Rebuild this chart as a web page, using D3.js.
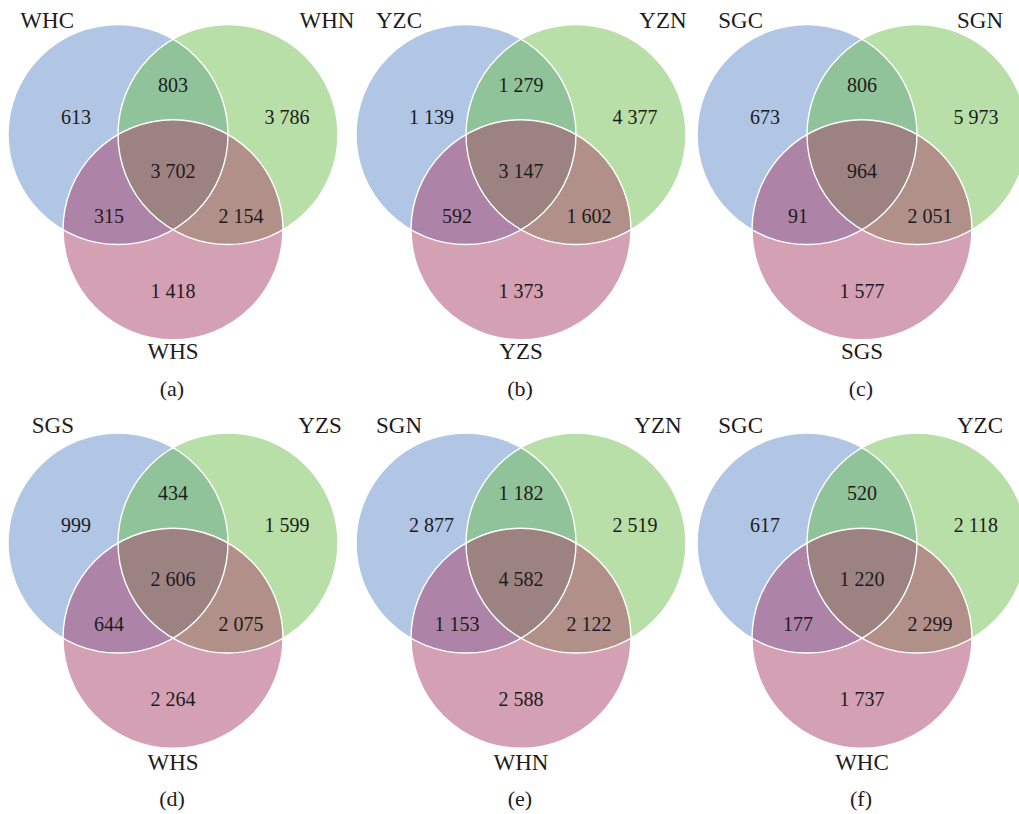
<!DOCTYPE html>
<html>
<head>
<meta charset="utf-8">
<script src="https://cdn.jsdelivr.net/npm/d3@7"></script>
<style>
  html, body { margin: 0; padding: 0; background: #fff; }
  svg { display: block; }
  text { font-family: "Liberation Serif", "Times New Roman", serif; fill: #1e1b1c; }
</style>
</head>
<body>
<svg id="chart" width="1019" height="814"></svg>
<script>
// Panel captions and the three sets compared in each panel (left, right, bottom)
const panelTags = ["(a)", "(b)", "(c)", "(d)", "(e)", "(f)"];
const setNames = [
  ["WHC", "WHN", "WHS"],
  ["YZC", "YZN", "YZS"],
  ["SGC", "SGN", "SGS"],
  ["SGS", "YZS", "WHS"],
  ["SGN", "YZN", "WHN"],
  ["SGC", "YZC", "WHC"]
];
// Region counts: [left only, right only, bottom only, left∩right, left∩bottom, right∩bottom, all three]
const regionKeys = ["A", "B", "C", "AB", "AC", "BC", "ABC"];
const countsA = [613, 3786, 1418, 803, 315, 2154, 3702];
const countsB = [1139, 4377, 1373, 1279, 592, 1602, 3147];
const countsC = [673, 5973, 1577, 806, 91, 2051, 964];
const countsD = [999, 1599, 2264, 434, 644, 2075, 2606];
const countsE = [2877, 2519, 2588, 1182, 1153, 2122, 4582];
const countsF = [617, 2118, 1737, 520, 177, 2299, 1220];
const panelCounts = [countsA, countsB, countsC, countsD, countsE, countsF];

// Layout
const R = 110;
const H = R * Math.sqrt(3) / 2;
const colX = d3.scaleOrdinal().domain([0, 1, 2]).range([173, 521, 862]);
const rowCy = d3.scaleOrdinal().domain([0, 1]).range([134.5, 543]);
const rowTopLabel = [27.5, 432.5];
const rowBottomLabel = [358.5, 770];
const rowCaption = [396, 806];
const rightLabelX = [327, 663, 980, 320, 658, 980];

const setColor = d3.scaleOrdinal()
  .domain([0, 1, 2])
  .range(["rgb(97,141,201)", "rgb(113,191,81)", "rgb(169,65,105)"]);

// Count positions relative to the top-pair centre line
const regionPos = {
  A:   { dx: -112, dy: -18, anchor: "start" },
  B:   { dx: 114,  dy: -18, anchor: "middle" },
  C:   { dx: 0,    dy: 156, anchor: "middle" },
  AB:  { dx: 0,    dy: -50, anchor: "middle" },
  AC:  { dx: -64,  dy: 81,  anchor: "middle" },
  BC:  { dx: 68,   dy: 81,  anchor: "middle" },
  ABC: { dx: 0,    dy: 36,  anchor: "middle" }
};

const fmt = d3.formatLocale({ decimal: ".", thousands: " ", grouping: [3], currency: ["", ""] }).format(",d");

const svg = d3.select("#chart");

panelCounts.forEach((counts, i) => {
  const col = i % 3, row = Math.floor(i / 3);
  const cx = colX(col), cy = rowCy(row);
  const centres = [
    { x: cx - R / 2, y: cy },
    { x: cx + R / 2, y: cy },
    { x: cx, y: cy + H }
  ];
  const g = svg.append("g").attr("class", "venn");

  // translucent set fills
  g.selectAll("circle.fill")
    .data(centres)
    .join("circle")
    .attr("class", "fill")
    .attr("cx", d => d.x)
    .attr("cy", d => d.y)
    .attr("r", R)
    .attr("fill", (d, k) => setColor(k))
    .attr("fill-opacity", 0.5);

  // white outlines on top
  g.selectAll("circle.edge")
    .data(centres)
    .join("circle")
    .attr("class", "edge")
    .attr("cx", d => d.x)
    .attr("cy", d => d.y)
    .attr("r", R)
    .attr("fill", "none")
    .attr("stroke", "#fff")
    .attr("stroke-width", 1.4);

  // region counts
  g.selectAll("text.count")
    .data(regionKeys.map((k, j) => ({ key: k, value: counts[j] })))
    .join("text")
    .attr("class", "count")
    .attr("x", d => cx + regionPos[d.key].dx)
    .attr("y", d => cy + regionPos[d.key].dy + 7)
    .attr("text-anchor", d => regionPos[d.key].anchor)
    .style("font-size", "20px")
    .text(d => fmt(d.value));

  // set names
  const names = setNames[i];
  g.append("text")
    .attr("x", cx - 99).attr("y", rowTopLabel[row])
    .attr("text-anchor", "end")
    .style("font-size", "23px")
    .text(names[0]);
  g.append("text")
    .attr("x", rightLabelX[i]).attr("y", rowTopLabel[row])
    .attr("text-anchor", "middle")
    .style("font-size", "23px")
    .text(names[1]);
  g.append("text")
    .attr("x", cx).attr("y", rowBottomLabel[row])
    .attr("text-anchor", "middle")
    .style("font-size", "23px")
    .text(names[2]);

  // panel caption
  g.append("text")
    .attr("x", cx - 1).attr("y", rowCaption[row])
    .attr("text-anchor", "middle")
    .style("font-size", "22px")
    .text(panelTags[i]);
});
</script>
</body>
</html>
